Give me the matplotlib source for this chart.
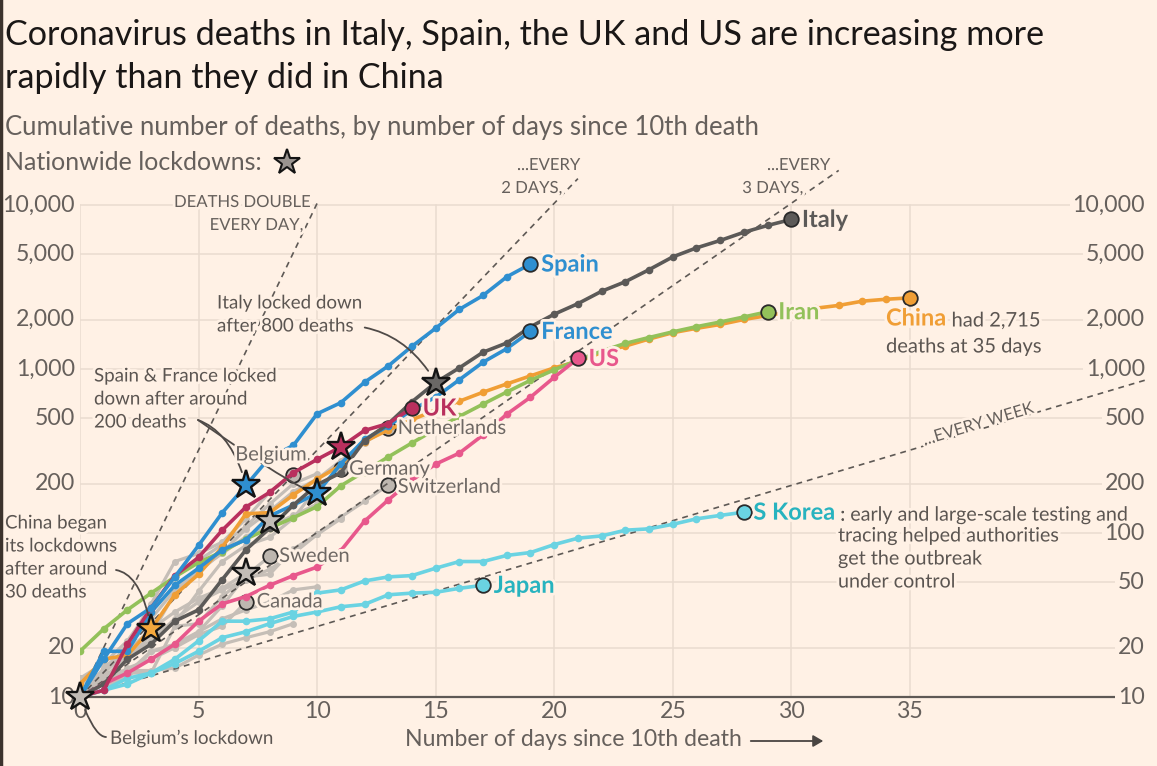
import numpy as np
import matplotlib
matplotlib.use("Agg")
import matplotlib.pyplot as plt
import matplotlib.patheffects as pe
from matplotlib.lines import Line2D

plt.rcParams['font.family'] = ['Lato', 'DejaVu Sans']

# ---------------- data (cumulative deaths, index = days since 10th death) ----
italy = [10, 12, 17, 21, 29, 34, 52, 79, 107, 148, 197, 233, 366, 463, 631, 827,
         1016, 1266, 1441, 1809, 2158, 2503, 2978, 3405, 4032, 4825, 5476, 6077,
         6820, 7503, 8165]
spain = [10, 17, 28, 35, 54, 84, 133, 195, 289, 342, 533, 623, 830, 1043, 1375,
         1772, 2311, 2808, 3647, 4365]
france = [10, 19, 19, 33, 48, 61, 79, 91, 127, 148, 175, 264, 372, 450, 562, 674,
          860, 1100, 1331, 1696]
uk = [10, 11, 21, 35, 55, 71, 104, 144, 177, 233, 281, 335, 422, 465, 578]
us = [10, 12, 14, 17, 21, 29, 37, 41, 48, 55, 62, 78, 118, 159, 210, 263, 307,
      396, 530, 673, 890, 1160]
iran = [19, 26, 34, 43, 54, 66, 77, 92, 107, 124, 145, 194, 237, 291, 354, 429,
        514, 611, 724, 853, 988, 1135, 1284, 1433, 1556, 1685, 1812, 1934, 2077, 2234]
china = [12, 17, 18, 26, 42, 56, 82, 131, 133, 171, 213, 259, 361, 425, 490, 563,
         636, 722, 811, 908, 1016, 1113, 1259, 1380, 1523, 1665, 1770, 1868, 2004,
         2118, 2236, 2345, 2442, 2592, 2663, 2715]
japan = [10, 11, 12, 14, 16, 19, 23, 25, 28, 31, 33, 35.5, 36.7, 42, 43, 43.5, 46, 48]
skorea = [10, 11, 13, 14, 17, 22, 29, 29, 30, 33, 43, 45, 51, 54, 55, 61, 67, 67,
          73, 76, 85, 93, 96, 104, 106, 113, 122, 128, 134]
belgium = [10, 14, 21, 37, 67, 75, 88, 122, 178, 226]
germany = [11, 13, 17, 24, 28, 44, 67, 84, 94, 123, 188, 245]
netherlands = [10, 12, 20, 24, 43, 58, 76, 106, 136, 179, 213, 276, 356, 434]
switzerland = [10, 13, 14, 14, 27, 28, 41, 54, 56, 80, 98, 125, 156, 196]
sweden = [10, 11, 14, 19, 21, 25, 36, 55, 72]
canada = [10, 12, 13, 19, 20, 24, 27, 38]
others = [
    [13, 14, 14.5, 14.5, 15, 18, 21, 23, 25, 28],
    [10, 12, 15, 17, 20, 25, 30, 34, 38, 45, 47],
    [10, 13, 18, 22, 30, 38, 45, 52, 60, 75, 98, 122],
    [10, 15, 20, 30, 45, 60, 75, 95, 110, 128, 150],
    [13, 16, 22, 35, 55, 68, 85, 110, 150, 200, 230],
    [12, 14, 19, 26, 33, 40, 46, 57],
]
# lockdowns: (day, deaths, fill colour key)
lock_days = [0, 3, 7, 10, 11, 15, 8, 7]
lock_vals = [10, 26, 195, 175, 335, 827, 118, 57]
lock_keys = ['grey', 'china', 'spain', 'france', 'uk', 'italy', 'grey', 'grey']

y_ticks = [10, 20, 50, 100, 200, 500, 1000, 2000, 5000, 10000]
y_labels_left = {10: '10', 20: '20', 200: '200', 500: '500', 1000: '1,000',
                 2000: '2,000', 5000: '5,000', 10000: '10,000'}
x_ticks = [0, 5, 10, 15, 20, 25, 30, 35]

# ---------------- style ----------------
BG = '#fff1e5'
GRID = '#e9dccf'
TXT = '#66605c'
C = {'italy': '#5c5a58', 'spain': '#2f8fd0', 'france': '#2f8fd0', 'uk': '#b9305e',
     'us': '#e8588c', 'iran': '#93c15a', 'china': '#f09e35', 'cyan': '#6ad3e2',
     'teal': '#27b3bf', 'grey': '#c5beb7', 'greytxt': '#6e6864'}
STAR_FILL = {'grey': '#c2bcb6', 'china': '#f4a83d', 'spain': '#2f8fd0',
             'france': '#2f8fd0', 'uk': '#b9305e', 'italy': '#6a6866'}

W, H = 1157, 766
fig = plt.figure(figsize=(W / 100, H / 100), dpi=100, facecolor=BG)
X0, DX = 80, 23.71
Y0, DY = 697, 164.0
XMAX = (1145 - X0) / DX
YTOP_PX = 156
ax = fig.add_axes([X0 / W, (H - Y0) / H, (1145 - X0) / W, (Y0 - YTOP_PX) / H])
ax.set_facecolor(BG)
ax.set_yscale('log')
ax.set_xlim(0, XMAX)
ax.set_ylim(10, 10 ** (1 + (Y0 - YTOP_PX) / DY))
for s in ax.spines.values():
    s.set_visible(False)
ax.set_xticks([])
ax.set_yticks([])
ax.minorticks_off()


def px2x(px):
    return (px - X0) / DX


def px2y(py):
    return 10 ** (1 + (Y0 - py) / DY)


def ftxt(px, py, s, **kw):
    return fig.text(px / W, 1 - py / H, s, **kw)


halo = [pe.withStroke(linewidth=4, foreground=BG)]

# grid
for v in y_ticks[1:]:
    ax.plot([0, XMAX], [v, v], color=GRID, lw=1.1, zorder=0.5, solid_capstyle='butt')
for d in x_ticks:
    ax.plot([d, d], [10, 10000], color=GRID, lw=1.1, zorder=0.5)
ax.plot([0, XMAX], [10, 10], color='#5e5955', lw=1.6, zorder=1, clip_on=False)

# y labels
TICK_FS = 16.7
for v in y_ticks:
    ax.text(XMAX, v, f'{v:,}', ha='right', va='center', fontsize=TICK_FS, color=TXT,
            zorder=1.5, clip_on=False,
            bbox=dict(boxstyle='square,pad=0.12', fc=BG, ec='none'))
    if v in y_labels_left:
        ax.text(px2x(75), v, y_labels_left[v], ha='right', va='center',
                fontsize=TICK_FS, color=TXT, clip_on=False)
for d in x_ticks:
    ax.text(d, px2y(711), str(d), ha='center', va='center', fontsize=TICK_FS,
            color=TXT, clip_on=False)

# reference doubling lines
ref = [(1, 10.0), (2, 21.0), (3, 32.0), (7, XMAX)]
for per, xend in ref:
    xx = np.linspace(0, xend, 50)
    ax.plot(xx, 10 * 2 ** (xx / per), color='#5e5955', lw=1.2, ls=(0, (3.5, 3)),
            zorder=2.5, clip_on=False)

rl_kw = dict(fontsize=12, color=TXT, zorder=8, path_effects=halo)
ax.text(px2x(310), px2y(202), 'DEATHS DOUBLE', ha='right', va='center', **rl_kw)
ax.text(px2x(303), px2y(225), 'EVERY DAY,', ha='right', va='center', **rl_kw)
ax.text(px2x(580), px2y(165), '...EVERY', ha='right', va='center', **rl_kw)
ax.text(px2x(562), px2y(188), '2 DAYS,', ha='right', va='center', **rl_kw)
ax.text(px2x(830), px2y(165), '...EVERY', ha='right', va='center', **rl_kw)
ax.text(px2x(803), px2y(188), '3 DAYS,', ha='right', va='center', **rl_kw)
ax.text(px2x(978), px2y(424), '...EVERY WEEK', ha='center', va='center',
        rotation=16.6, **rl_kw)


def draw(vals, color, z, lw=2.6, ms=5.5, end=True, endfill=None):
    d = np.arange(len(vals))
    ax.plot(d, vals, color=color, lw=lw, marker='o', ms=ms, mew=0, zorder=z,
            solid_joinstyle='round')
    if end:
        ax.plot(d[-1:], vals[-1:], 'o', ms=10.5, mfc=endfill or color,
                mec='#2a2a2a', mew=1.3, zorder=z + 0.2)


for o in others:
    draw(o, C['grey'], 2, lw=2.3, ms=5, end=False)
for g in [belgium, germany, netherlands, switzerland, sweden, canada]:
    draw(g, C['grey'], 2.1, lw=2.3, ms=5, endfill='#bdb6af')
draw(japan, C['cyan'], 3)
draw(skorea, C['cyan'], 3)
draw(iran, C['iran'], 3.5)
draw(china, C['china'], 3.4)
draw(us, C['us'], 4)
draw(france, C['france'], 4.5)
draw(italy, C['italy'], 4.6)
draw(uk, C['uk'], 4.7)
draw(spain, C['spain'], 5)

for d, v, k in zip(lock_days, lock_vals, lock_keys):
    ax.plot([d], [v], marker='*', ms=21, mfc=STAR_FILL[k], mec='#141414', mew=1.7,
            zorder=9, clip_on=False)

# series labels
bold = dict(fontsize=17, fontweight='bold', va='center', zorder=8,
            path_effects=halo)
ax.text(30.45, 8165, 'Italy', color=C['italy'], **bold)
ax.text(19.45, 4365, 'Spain', color=C['spain'], **bold)
ax.text(19.45, 1696, 'France', color=C['france'], **bold)
ax.text(21.45, 1160, 'US', color=C['us'], **bold)
ax.text(14.45, 578, 'UK', color=C['uk'], **bold)
ax.text(29.45, 2234, 'Iran', color=C['iran'], **bold)
ax.text(17.45, 48, 'Japan', color=C['teal'], **bold)
t_kor = ax.text(28.4, 134, 'S Korea', color=C['teal'], **bold)
t_chn = ax.text(px2x(886), px2y(318), 'China', color=C['china'], **bold)

reg = dict(fontsize=14.5, va='center', color=C['greytxt'], zorder=8, path_effects=halo)
ax.text(13.4, 434, 'Netherlands', **reg)
ax.text(11.35, 245, 'Germany', **reg)
ax.text(13.4, 190, 'Switzerland', **reg)
ax.text(8.4, 72, 'Sweden', **reg)
ax.text(7.45, 38, 'Canada', **reg)
ax.text(px2x(271), px2y(455), 'Belgium', ha='center', **reg)

note = dict(fontsize=13.5, color='#5b5551', zorder=8, path_effects=halo)
ax.annotate(' had 2,715', xy=(1, 0), xycoords=t_chn, va='bottom', fontsize=14.5,
            color='#5b5551', zorder=8, path_effects=halo)
ax.annotate(' : early and large-scale testing and', xy=(1, 0), xycoords=t_kor,
            va='bottom', fontsize=14.2, color='#5b5551', zorder=8, path_effects=halo)
ax.text(px2x(886), px2y(347), 'deaths at 35 days', va='center',
        **dict(note, fontsize=14.5))
for i, s in enumerate(['tracing helped authorities', 'get the outbreak',
                       'under control']):
    ax.text(px2x(838), px2y(536 + 23 * i), s, va='center', **dict(note, fontsize=14.2))

ax.text(px2x(217), px2y(303), 'Italy locked down', va='center', **note)
ax.text(px2x(217), px2y(326), 'after 800 deaths', va='center', **note)
ax.text(px2x(94), px2y(376), 'Spain & France locked', va='center', **note)
ax.text(px2x(94), px2y(399), 'down after around', va='center', **note)
ax.text(px2x(94), px2y(422), '200 deaths', va='center', **note)
for i, s in enumerate(['China began', 'its lockdowns', 'after around', '30 deaths']):
    ax.text(px2x(5), px2y(523 + 23 * i), s, va='center', clip_on=False, **note)
ax.text(px2x(110), px2y(738), 'Belgium’s lockdown', va='center', clip_on=False, **note)

con = dict(arrowstyle='-', color='#4f4a47', lw=1.3)
ax.annotate('', xy=(15, 827), xytext=(px2x(362), px2y(327)),
            arrowprops=dict(connectionstyle='angle3,angleA=-10,angleB=-60',
                            shrinkB=10, shrinkA=2, **con), zorder=7)
ax.annotate('', xy=(7, 195), xytext=(px2x(198), px2y(420)),
            arrowprops=dict(connectionstyle='angle3,angleA=-20,angleB=-75',
                            shrinkB=10, shrinkA=0, **con), zorder=7)
ax.annotate('', xy=(10, 175), xytext=(px2x(198), px2y(420)),
            arrowprops=dict(connectionstyle='angle3,angleA=-35,angleB=0',
                            shrinkB=10, shrinkA=0, **con), zorder=7)
ax.annotate('', xy=(3, 26), xytext=(px2x(116), px2y(570)),
            arrowprops=dict(connectionstyle='angle3,angleA=-10,angleB=-80',
                            shrinkB=10, shrinkA=0, **con), zorder=7)
ax.annotate('', xy=(0, 10), xytext=(px2x(106), px2y(737)),
            arrowprops=dict(connectionstyle='angle3,angleA=180,angleB=-70',
                            shrinkB=10, shrinkA=0, **con), zorder=7,
            annotation_clip=False)

# header
ftxt(5, 35, 'Coronavirus deaths in Italy, Spain, the UK and US are increasing more',
     fontsize=24.6, color='#1a1716', va='center')
ftxt(5, 78, 'rapidly than they did in China', fontsize=24.6, color='#1a1716',
     va='center')
ftxt(5, 127, 'Cumulative number of deaths, by number of days since 10th death',
     fontsize=18.5, color=TXT, va='center')
ftxt(5, 162, 'Nationwide lockdowns:', fontsize=18, color=TXT, va='center')
fig.add_artist(Line2D([287 / W], [1 - 162 / H], marker='*', ms=19, mfc='#9a9490',
                      mec='#141414', mew=1.5, transform=fig.transFigure))

# x-axis title with arrow
ftxt(405, 740, 'Number of days since 10th death', fontsize=16.6, color=TXT,
     va='center')
fig.add_artist(matplotlib.patches.FancyArrowPatch(
    (748 / W, 1 - 741 / H), (826 / W, 1 - 741 / H), transform=fig.transFigure,
    arrowstyle='-|>,head_length=6,head_width=3.5', color='#4a4542', lw=1.3))

# left border
fig.add_artist(Line2D([0.001, 0.001], [0, 1], color='#3c332d', lw=2.5,
                      transform=fig.transFigure))

fig.savefig('out.png', dpi=100, facecolor=BG)
